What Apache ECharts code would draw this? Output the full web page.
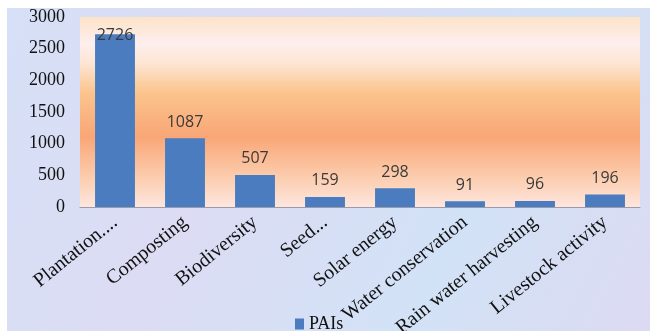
<!DOCTYPE html>
<html>
<head>
<meta charset="utf-8">
<script src="https://cdn.jsdelivr.net/npm/echarts@6/dist/echarts.min.js"></script>
<style>
  html, body { margin: 0; padding: 0; background: #fff; }
  #main { width: 652px; height: 331px; }
</style>
</head>
<body>
<div id="main"></div>
<script>
// categories and values
var categories = ['Plantation....', 'Composting', 'Biodiversity', 'Seed...', 'Solar energy',
    'Water conservation', 'Rain water harvesting', 'Livestock activity'];
var paiValues = [2726, 1087, 507, 159, 298, 91, 96, 196];
var seriesName = 'PAIs';

var chart = echarts.init(document.getElementById('main'));

// the tallest bar has its label pushed down onto the bar
var barData = paiValues.map(function (v, i) {
    if (i === 0) return { value: v, label: { offset: [0, 17] } };
    return v;
});

var serif = '"Liberation Serif", "Times New Roman", serif';

chart.setOption({
    backgroundColor: '#ffffff',
    animation: false,
    graphic: [{
        type: 'rect',
        z: -10,
        shape: { x: 7, y: 8, width: 643, height: 323 },
        style: {
            fill: {
                type: 'linear', x: 0, y: 0, x2: 1, y2: 1,
                colorStops: [
                    { offset: 0, color: '#d6e0f6' },
                    { offset: 0.35, color: '#dcdcf4' },
                    { offset: 0.7, color: '#d2e2f6' },
                    { offset: 1, color: '#dcdaf2' }
                ]
            }
        }
    }],
    grid: {
        left: 80, right: 12, top: 17, bottom: 124,
        outerBoundsMode: 'none',
        containLabel: false,
        show: true,
        borderWidth: 0,
        backgroundColor: {
            type: 'linear', x: 0, y: 0, x2: 0, y2: 1,
            colorStops: [
                { offset: 0, color: '#fde4c8' },
                { offset: 0.14, color: '#fdeeee' },
                { offset: 0.24, color: '#fde6d4' },
                { offset: 0.4, color: '#fbc48c' },
                { offset: 0.63, color: '#f9a676' },
                { offset: 0.85, color: '#fcceb0' },
                { offset: 1, color: '#fde6de' }
            ]
        }
    },
    legend: {
        data: [seriesName],
        left: 290, top: 310,
        icon: 'rect',
        itemWidth: 9, itemHeight: 11, itemGap: 4,
        textStyle: { fontFamily: serif, fontSize: 18, color: '#111' }
    },
    xAxis: {
        type: 'category',
        data: categories,
        axisLine: { lineStyle: { color: '#9a9aa8', width: 1 } },
        axisTick: { show: false },
        axisLabel: {
            rotate: 39,
            interval: 0,
            margin: 13,
            fontFamily: serif,
            fontSize: 20,
            color: '#111'
        }
    },
    yAxis: {
        type: 'value',
        min: 0, max: 3000, interval: 500,
        splitLine: { show: false },
        axisLine: { show: false },
        axisTick: { show: false },
        axisLabel: {
            fontFamily: serif, fontSize: 18, color: '#111', margin: 15,
            formatter: function (v) { return String(v); }
        }
    },
    series: [{
        name: seriesName,
        type: 'bar',
        data: barData,
        barWidth: '57%',
        itemStyle: { color: '#4a7cbf' },
        label: {
            show: true,
            position: 'top',
            distance: 8,
            fontFamily: '"Open Sans", "Liberation Sans", sans-serif',
            fontSize: 16,
            color: '#3a3a3a'
        }
    }]
});
</script>
</body>
</html>
